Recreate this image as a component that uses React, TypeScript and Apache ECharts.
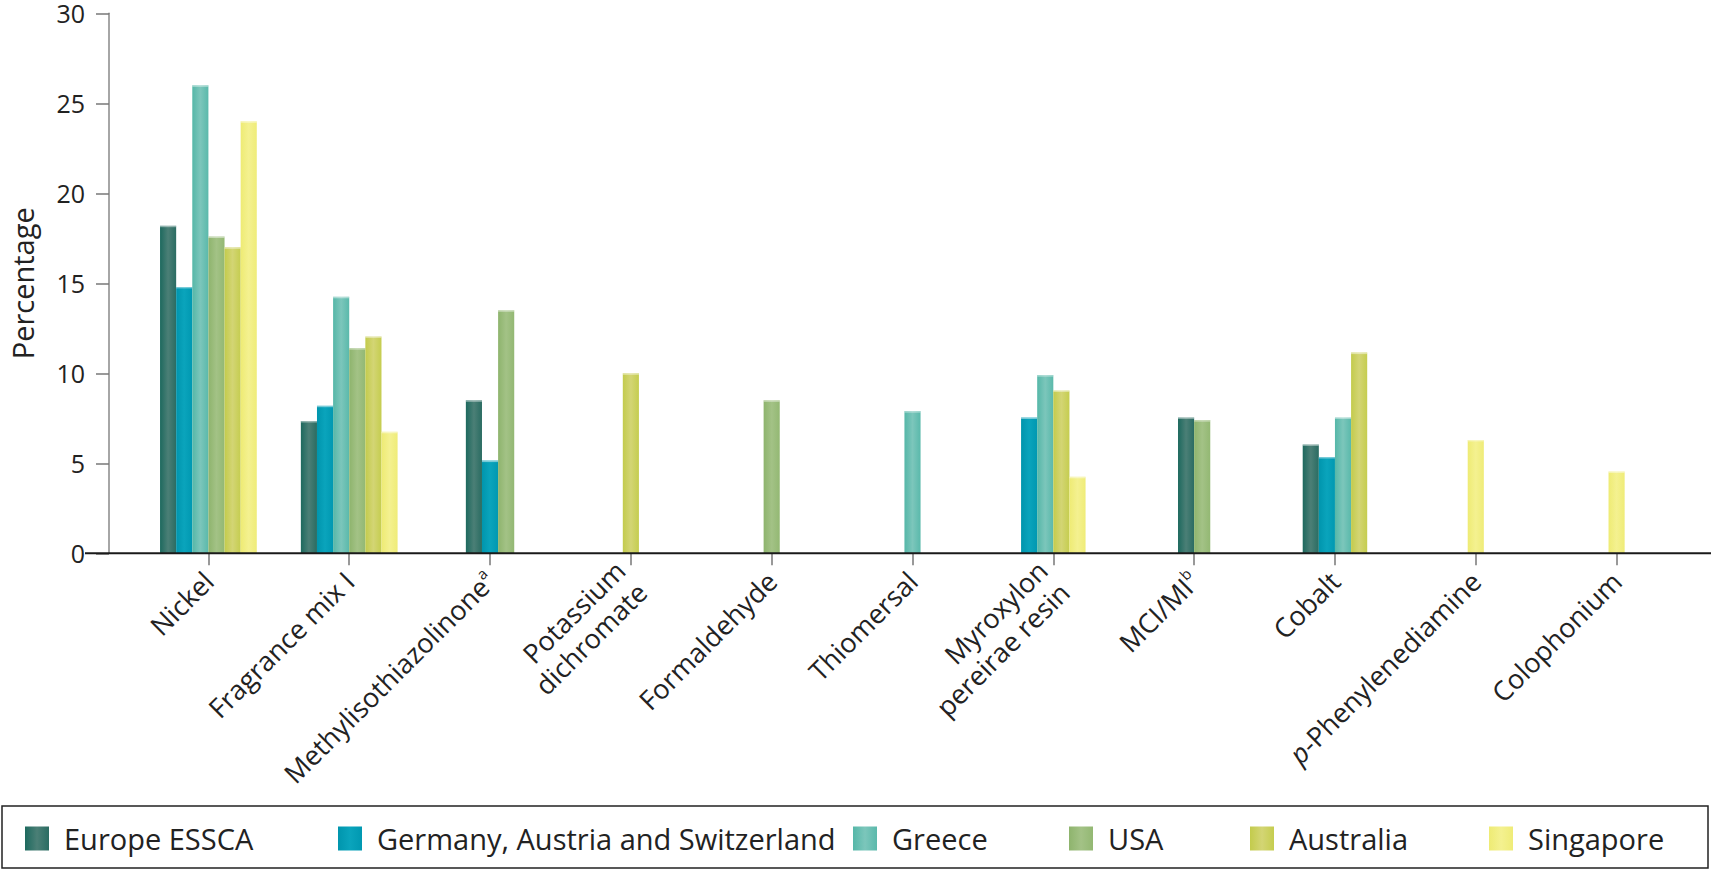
import React, { useEffect, useRef } from "react";
import * as echarts from "echarts";

const categories = [
  "Nickel",
  "Fragrance mix I",
  "Methylisothiazolinone",
  "Potassium dichromate",
  "Formaldehyde",
  "Thiomersal",
  "Myroxylon pereirae resin",
  "MCI/MI",
  "Cobalt",
  "p-Phenylenediamine",
  "Colophonium",
];

const seriesNames = [
  "Europe ESSCA",
  "Germany, Austria and Switzerland",
  "Greece",
  "USA",
  "Australia",
  "Singapore",
];

const europeESSCA = [18.2, 7.35, 8.5, null, null, null, null, 7.55, 6.05, null, null];
const germanyAustriaSwitzerland = [14.8, 8.2, 5.15, null, null, null, 7.55, null, 5.35, null, null];
const greece = [26.0, 14.25, null, null, null, 7.9, 9.9, null, 7.55, null, null];
const usa = [17.6, 11.4, 13.5, null, 8.5, null, null, 7.4, null, null, null];
const australia = [17.0, 12.05, null, 10.0, null, null, 9.05, null, 11.15, null, null];
const singapore = [24.0, 6.75, null, null, null, null, 4.25, null, null, 6.3, 4.55];

const seriesValues: (number | null)[][] = [
  europeESSCA,
  germanyAustriaSwitzerland,
  greece,
  usa,
  australia,
  singapore,
];

const yTicks = [0, 5, 10, 15, 20, 25, 30];

const gradientStops: [string, string, string][] = [
  ["#1d695e", "#4b7f76", "#2a6c62"],
  ["#0095ad", "#0aa4bc", "#0098b1"],
  ["#55b7a8", "#7cc6bb", "#5ab9ab"],
  ["#8eb46d", "#a3c286", "#93b873"],
  ["#c3cb4c", "#d3d574", "#c5cd4f"],
  ["#eeeb74", "#f4f190", "#efec78"],
];

const labelRichText: Record<string, string> = {
  Methylisothiazolinone: "{n|Methylisothiazolinone}{s|a}",
  "Potassium dichromate": "{n|Potassium}\n{n|dichromate}",
  "Myroxylon pereirae resin": "{n|Myroxylon}\n{n|pereirae resin}",
  "MCI/MI": "{n|MCI/MI}{s|b}",
  "p-Phenylenediamine": "{i|p}{n|-Phenylenediamine}",
};

const FONT = "'Open Sans', 'Noto Sans', sans-serif";

export default function App() {
  const ref = useRef<HTMLDivElement>(null);

  useEffect(() => {
    if (!ref.current) return;
    const chart = echarts.init(ref.current, undefined, { renderer: "svg" });

    const grads = gradientStops.map(
      (s) =>
        new echarts.graphic.LinearGradient(0, 0, 1, 0, [
          { offset: 0, color: s[0] },
          { offset: 0.5, color: s[1] },
          { offset: 1, color: s[2] },
        ])
    );

    const legendLefts = [25, 338, 853, 1069, 1250, 1489];

    const series = seriesNames.map((name, si) => ({
      type: "custom",
      name,
      coordinateSystem: "cartesian2d",
      itemStyle: { color: grads[si] },
      encode: { x: 0, y: 1 },
      data: seriesValues[si]
        .map((v, i) => (v == null ? null : [i, v]))
        .filter((d) => d != null),
      renderItem: (params: any, api: any) => {
        const ci = api.value(0);
        const v = api.value(1);
        const present = seriesValues
          .map((arr, k) => (arr[ci] != null ? k : -1))
          .filter((k) => k >= 0);
        const n = present.length;
        const k = present.indexOf(si);
        const bandW = api.size([1, 0])[0];
        const bw = bandW * 0.1145;
        const base = api.coord([ci, 0]);
        const top = api.coord([ci, v]);
        const x = base[0] - (n * bw) / 2 + k * bw;
        return {
          type: "group",
          children: [
            {
              type: "rect",
              shape: { x, y: top[1], width: bw, height: base[1] - top[1] },
              style: { fill: grads[si] },
            },
            {
              type: "rect",
              shape: { x, y: top[1], width: bw, height: 1.5 },
              style: { fill: "rgba(255,255,255,0.45)" },
            },
          ],
        };
      },
    }));

    chart.setOption({
      animation: false,
      backgroundColor: "#ffffff",
      textStyle: { fontFamily: FONT },
      grid: { left: 127, right: 24, top: 13.3, bottom: 315.7, containLabel: false },
      xAxis: {
        type: "category",
        data: categories,
        boundaryGap: true,
        axisLine: { show: false },
        axisTick: {
          show: true,
          alignWithLabel: true,
          length: 12,
          lineStyle: { color: "#777", width: 1.5 },
        },
        axisLabel: {
          interval: 0,
          rotate: 45,
          margin: 23,
          color: "#222",
          fontFamily: FONT,
          formatter: (v: string) => labelRichText[v] ?? `{n|${v}}`,
          rich: {
            n: { fontSize: 27, color: "#222", fontFamily: FONT, lineHeight: 31 },
            i: { fontSize: 27, color: "#222", fontFamily: FONT, fontStyle: "italic", lineHeight: 31 },
            s: { fontSize: 15, color: "#222", fontFamily: FONT, verticalAlign: "top", lineHeight: 31 },
          },
        },
      },
      yAxis: {
        type: "value",
        min: yTicks[0],
        max: yTicks[yTicks.length - 1],
        interval: 5,
        offset: 29,
        name: "Percentage",
        nameLocation: "middle",
        nameGap: 72,
        nameTextStyle: { fontSize: 29, color: "#222", fontFamily: FONT },
        axisLine: { show: true, lineStyle: { color: "#888", width: 1.5 } },
        axisTick: { show: true, length: 13, lineStyle: { color: "#777", width: 1.5 } },
        axisLabel: { margin: 24, fontSize: 25, lineHeight: 24, color: "#222", fontFamily: FONT },
        splitLine: { show: false },
      },
      legend: seriesNames.map((name, i) => ({
        data: [name],
        left: legendLefts[i],
        top: 824,
        padding: 0,
        itemWidth: 24,
        itemHeight: 24,
        icon: "rect",
        selectedMode: false,
        textStyle: { fontSize: 29, color: "#222", fontFamily: FONT, padding: [0, 0, 0, 10] },
      })),
      graphic: [
        {
          type: "rect",
          shape: { x: 2, y: 806, width: 1706, height: 62 },
          style: { fill: "none", stroke: "#222", lineWidth: 1.5 },
          z: 5,
        },
        {
          type: "line",
          shape: { x1: 85, y1: 553.3, x2: 1711, y2: 553.3 },
          style: { stroke: "#1a1a1a", lineWidth: 2 },
          z: 10,
        },
      ],
      series,
    });

    return () => chart.dispose();
  }, []);

  return (
    <div
      ref={ref}
      style={{ position: "fixed", left: 0, top: 0, width: 1711, height: 869 }}
    />
  );
}
